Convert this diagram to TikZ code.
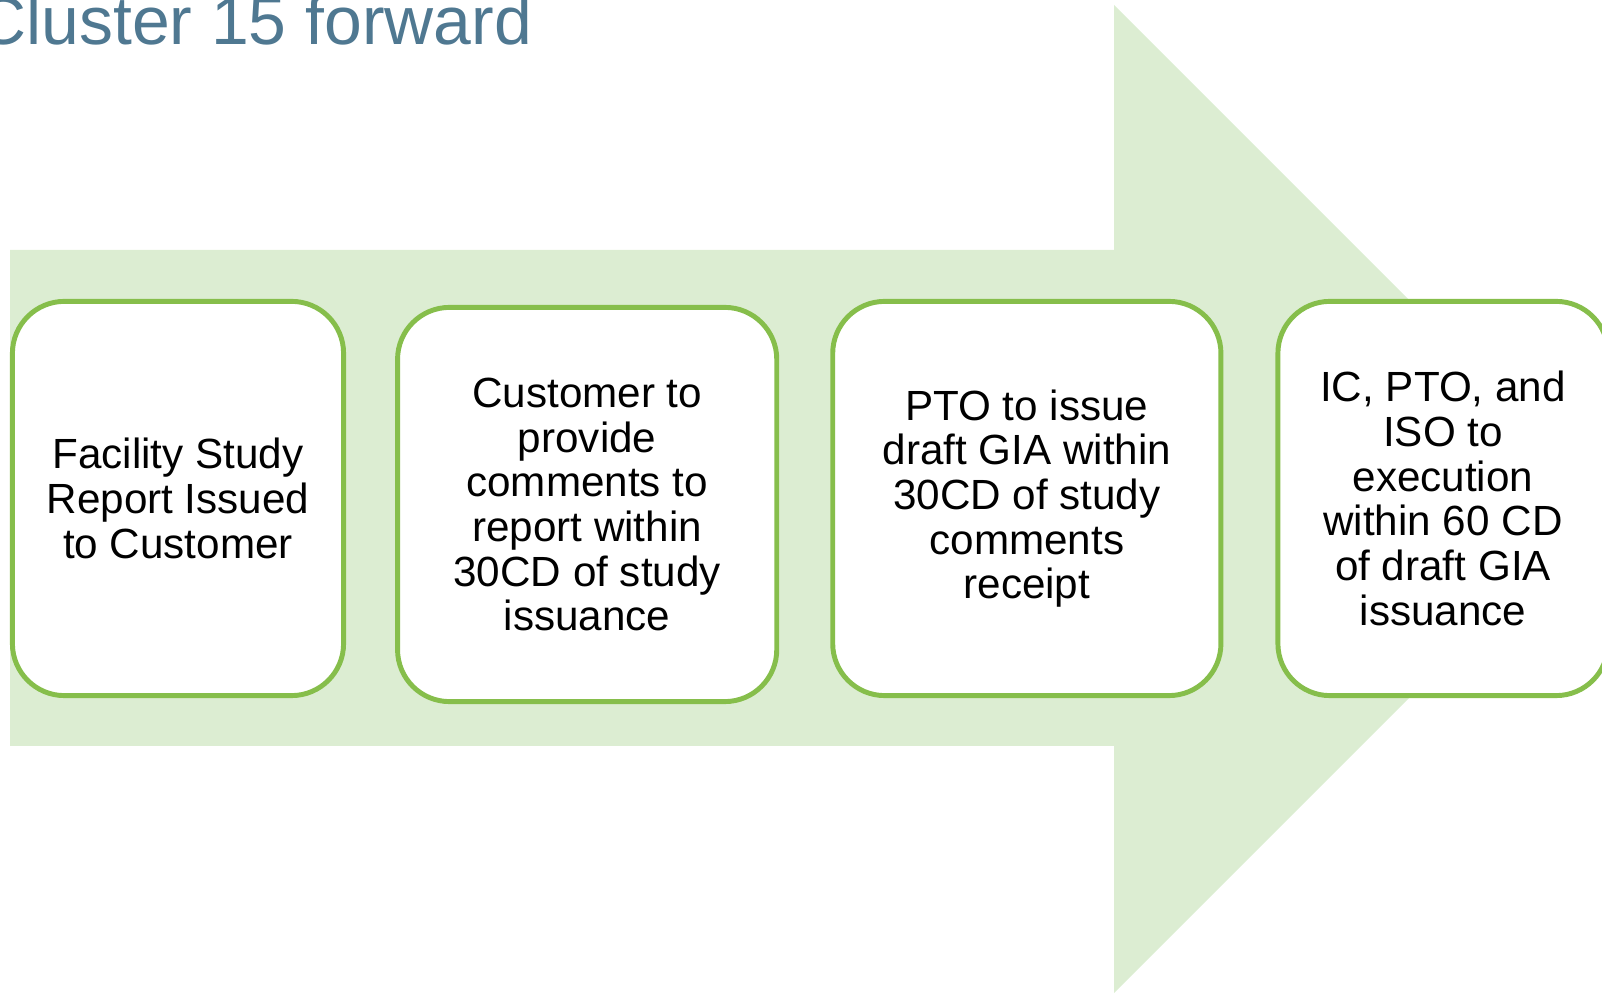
\documentclass[tikz,border=0pt]{standalone}
\usepackage{fontspec}
\setmainfont{Liberation Sans}
\usetikzlibrary{positioning}
\definecolor{arrowfill}{HTML}{DCEDD2}
\definecolor{boxline}{HTML}{86BE4B}
\definecolor{titleblue}{HTML}{4F7891}

\begin{document}
\begin{tikzpicture}[x=0.01cm,y=-0.01cm,
  stepbox/.style={draw=boxline, line width=1.4pt, fill=white, rounded corners=0.52cm,
    minimum height=3.94cm, inner sep=0pt, align=center,
    font=\fontsize{12}{12.7}\selectfont},
  node distance=0.49cm]
  \useasboundingbox (0,0) rectangle (1602,995);
  \clip (0,0) rectangle (1602,995);
  % big arrow behind the steps
  \fill[arrowfill] (10,250) -- (1114,250) -- (1114,5) -- (1608,499)
    -- (1114,993) -- (1114,746) -- (10,746) -- cycle;
  \node[anchor=base west, text=titleblue, font=\fontsize{19.3}{23}\selectfont] (title) at (-35,45) {Cluster 15 forward};
  % the four steps
  \node[stepbox, minimum width=3.31cm] (s1) at (178,498.5) {Facility Study\\Report Issued\\to Customer};
  \node[stepbox, minimum width=3.79cm, right=of s1, yshift=-0.06cm] (s2) {Customer to\\provide\\comments to\\report within\\30CD of study\\issuance};
  \node[stepbox, minimum width=3.88cm, right=0.51cm of s2, yshift=0.06cm] (s3) {PTO to issue\\draft GIA within\\30CD of study\\comments\\receipt};
  \node[stepbox, minimum width=3.3cm, right=0.52cm of s3] (s4) {IC, PTO, and\\ISO to\\execution\\within 60 CD\\of draft GIA\\issuance};
\end{tikzpicture}
\end{document}
